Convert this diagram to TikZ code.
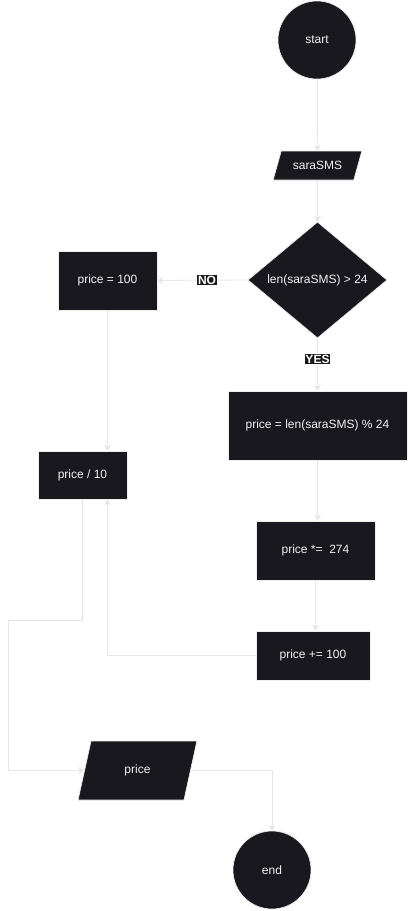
\documentclass[tikz,border=0pt]{standalone}
\usepackage{fontspec}
\setmainfont{Liberation Sans}
\usetikzlibrary{shapes.geometric,arrows.meta}
\definecolor{boxfill}{RGB}{26,24,31}
\definecolor{boxline}{RGB}{238,238,238}
\definecolor{conn}{RGB}{230,230,230}
\definecolor{txt}{RGB}{242,242,242}
\tikzset{
  base/.style={fill=boxfill, draw=boxline, line width=0.6pt, text=txt, inner sep=0pt, font=\fontsize{12}{14}\selectfont},
  term/.style={base, circle, minimum size=78pt},
  proc/.style={base, rectangle},
  io/.style={base, trapezium, trapezium stretches=true},
  decision/.style={base, diamond, minimum width=139pt, minimum height=116pt},
  conn/.style={draw=conn, line width=0.8pt},
  arr/.style={conn, -{Stealth[length=6pt,width=7pt,inset=2pt]}},
  lab/.style={fill=boxfill, text=white, inner sep=0.6pt, font=\bfseries\fontsize{12}{12}\selectfont}
}
\begin{document}
\begin{tikzpicture}[x=1pt,y=-1pt]
\useasboundingbox (0,0) rectangle (408,911);
\node[term] (start) at (317,40) {start};
\node[io, trapezium left angle=57, trapezium right angle=123, minimum width=89pt, minimum height=29pt] (sara) at (317.5,165.5) {saraSMS};
\node[decision] (dec) at (317.5,280) {len(saraSMS) > 24};
\node[proc, minimum width=99pt, minimum height=59pt] (p100) at (107.5,280.5) {price = 100};
\node[proc, minimum width=179pt, minimum height=69pt] (plen) at (317.5,425.5) {price = len(saraSMS) \% 24};
\node[proc, minimum width=89pt, minimum height=48pt] (pdiv) at (82.5,475) {price / 10};
\node[proc, minimum width=119pt, minimum height=59pt] (pmul) at (315.5,550.5) {price *=\ \ 274};
\node[proc, minimum width=114pt, minimum height=49pt] (padd) at (313,655.5) {price += 100};
\node[io, trapezium left angle=72, trapezium right angle=108, minimum width=119pt, minimum height=59pt] (price) at (137.5,770.5) {price};
\node[term] (end) at (272,870) {end};
\coordinate (k1) at (8,620);

\draw[arr] (start) -- (sara);
\draw[arr] (sara.south) -- (dec.north);
\draw[arr] (dec.west) -- node[lab, pos=0.45] {NO} (p100.east);
\draw[arr] (dec.south) -- node[lab, pos=0.4] {YES} (plen.north);
\draw[arr] (plen.south) -- (plen.south |- pmul.north);
\draw[arr] (pmul.south) -- (pmul.south |- padd.north);
\draw[arr] (p100.south) -- (p100.south |- pdiv.north);
\draw[arr] (padd.west) -| (p100.south |- pdiv.south);
\draw[arr] (pdiv.south) |- (k1) |- (price.west);
\draw[arr] (price.east) -| (end.north);
\end{tikzpicture}
\end{document}
